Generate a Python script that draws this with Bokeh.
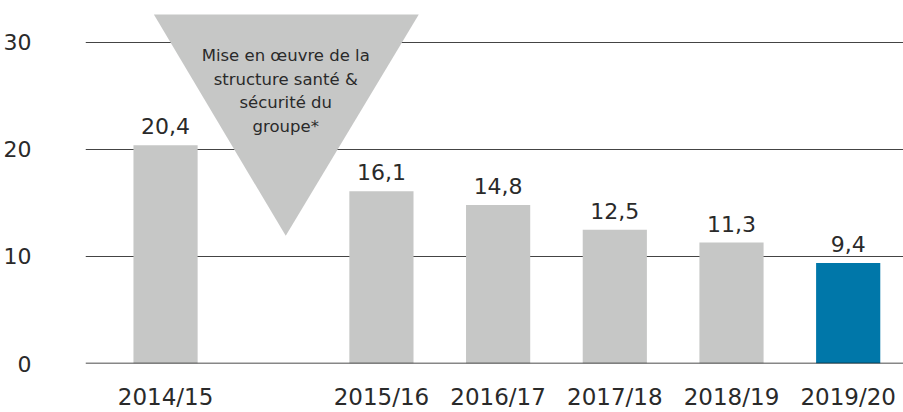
from bokeh.plotting import figure
from bokeh.models import ColumnDataSource, FixedTicker, Span
from bokeh.core.properties import value
from bokeh.embed import file_html
from bokeh.resources import INLINE

# ---- data ----
years = ["2014/15", "2015/16", "2016/17", "2017/18", "2018/19", "2019/20"]
rates = [20.4, 16.1, 14.8, 12.5, 11.3, 9.4]
rate_labels = ["20,4", "16,1", "14,8", "12,5", "11,3", "9,4"]
y_ticks = [0, 10, 20, 30]
note_lines = ["Mise en œuvre de la", "structure santé &", "sécurité du", "groupe*"]

# ---- layout / style ----
FONT = "DejaVu Sans"
TXT = "#2a2a2a"
GREY = "#c6c7c6"
BLUE = "#0077a9"
GAP = 0.85           # extra space after the first bar (room for the note)
BAR_W = 0.55

xs = [i + (GAP if i > 0 else 0) for i in range(len(years))]
colors = [GREY] * (len(years) - 1) + [BLUE]

src = ColumnDataSource(dict(x=xs, top=rates, lab=rate_labels, color=colors))

p = figure(width=903, height=412, output_backend="svg", toolbar_location=None,
           x_range=(-0.686, 6.324), y_range=(0, 32.8),
           min_border_left=85, min_border_right=0, min_border_top=12, min_border_bottom=48)
p.outline_line_color = None
p.background_fill_color = "white"
p.border_fill_color = "white"

p.xgrid.grid_line_color = None
p.ygrid.ticker = FixedTicker(ticks=y_ticks)
p.ygrid.grid_line_color = "#444444"
p.ygrid.grid_line_width = 1

p.vbar(x="x", top="top", width=BAR_W, color="color", source=src, line_color=None)

# value labels
p.text(x="x", y="top", text="lab", source=src, text_align="center", text_baseline="alphabetic",
       y_offset=-19, text_font=value(FONT), text_font_size="22px", text_color=TXT)

# note triangle
x0 = xs[0]
tri_x = [x0 - 0.10, x0 + 2.17, x0 + 1.03]
tri_y = [32.61, 32.61, 11.93]
p.patch(tri_x, tri_y, color=GREY, line_color=None)
cx = x0 + 1.03
for k, line in enumerate(note_lines):
    p.text(x=[cx], y=[32.8], text=[line], text_align="center", text_baseline="alphabetic",
           y_offset=43 + 23.5 * k, text_font=value(FONT), text_font_size="16.5px", text_color=TXT)

zero = Span(location=0, dimension="width", line_color="#111111", line_width=1.3)
p.add_layout(zero)

# axes
p.xaxis.ticker = FixedTicker(ticks=xs)
p.xaxis.major_label_overrides = {x: y for x, y in zip(xs, years)}
p.yaxis.ticker = FixedTicker(ticks=y_ticks)
for ax in (p.xaxis[0], p.yaxis[0]):
    ax.axis_line_color = None
    ax.major_tick_line_color = None
    ax.minor_tick_line_color = None
    ax.major_label_text_font = FONT
    ax.major_label_text_color = TXT
p.xaxis.major_label_text_font_size = "23px"
p.yaxis.major_label_text_font_size = "22px"
p.xaxis.major_label_standoff = 14
p.yaxis.major_label_standoff = 48

open("out.html", "w").write(file_html(p, INLINE))
